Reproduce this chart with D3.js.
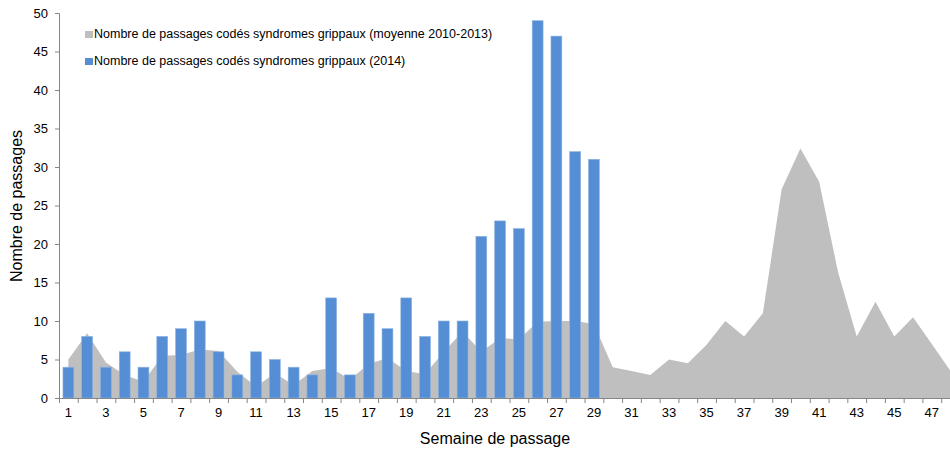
<!DOCTYPE html>
<html>
<head>
<meta charset="utf-8">
<script src="https://cdn.jsdelivr.net/npm/d3@7"></script>
<style>
  body { margin: 0; background: #fff; }
  svg { display: block; font-family: "Liberation Sans", Arial, sans-serif; }
</style>
</head>
<body>
<svg id="chart"></svg>
<script>
// semaines 1..48 (tick labels shown on odd weeks)
const weeks = [1,2,3,4,5,6,7,8,9,10,11,12,13,14,15,16,17,18,19,20,21,22,23,24,
  25,26,27,28,29,30,31,32,33,34,35,36,37,38,39,40,41,42,43,44,45,46,47,48]

// moyenne 2010-2013 (area)
const moyenne = [5.0,8.4,4.6,3.0,2.1,5.5,5.6,6.3,6.1,3.4,1.5,3.2,1.7,3.5,3.9,2.4,
  4.4,5.2,3.5,3.1,6.0,8.6,6.0,7.8,7.6,9.9,10.0,10.0,9.6,4.0,3.5,3.0,5.0,4.5,6.9,
  10.0,8.0,11.0,27.1,32.4,28.1,16.4,8.0,12.5,8.0,10.5,7.0,3.5]

// 2014 (bars, weeks 1..29)
const annee2014 = [4,8,4,6,4,8,9,10,6,3,6,5,4,3,13,3,11,9,13,8,10,10,21,23,22,49,47,32,31]

const yTicks = [0,5,10,15,20,25,30,35,40,45,50]

const legendLabels = [
  'Nombre de passages codés syndromes grippaux (moyenne 2010-2013)',
  'Nombre de passages codés syndromes grippaux (2014)'
]

const width = 950
const height = 450
const margin = { top: 13, bottom: 52, left: 59 }
const bandW = 18.77

const svg = d3.select('#chart')
  .attr('width', width)
  .attr('height', height)

const xScale = d3.scaleBand()
  .domain(weeks)
  .range([margin.left, margin.left + weeks.length * bandW])
  .padding(0)

const xLin = d3.scaleLinear()
  .domain([0, weeks.length])
  .range([margin.left, margin.left + weeks.length * bandW])

const yScale = d3.scaleLinear()
  .domain([0, 50])
  .range([height - margin.bottom, margin.top])

const cx = w => xScale(w) + xScale.bandwidth() / 2

// gray area
const area = d3.area()
  .x((d, i) => cx(weeks[i]))
  .y0(yScale(0))
  .y1(d => yScale(d))

svg.append('path')
  .datum(moyenne)
  .attr('fill', '#BFBFBF')
  .attr('d', area)

// blue bars
const barW = xScale.bandwidth() * 0.58
svg.append('g')
  .attr('fill', '#558ED5')
  .attr('stroke', '#8DB4E2')
  .attr('stroke-width', 0.6)
  .selectAll('rect')
  .data(annee2014)
  .join('rect')
  .attr('x', (d, i) => cx(weeks[i]) - barW / 2)
  .attr('y', d => yScale(d))
  .attr('width', barW)
  .attr('height', d => yScale(0) - yScale(d))

// y axis
function yAxis(g) {
  g.attr('transform', `translate(${margin.left}, 0)`)
    .call(d3.axisLeft(yScale).tickValues(yTicks).tickSize(4).tickPadding(7))
  g.selectAll('path, line').attr('stroke', '#868686')
  g.selectAll('text').attr('font-size', 13).attr('fill', '#000')
    .attr('font-family', '"Liberation Sans", Arial, sans-serif')
}

// x axis: tick marks on band edges, labels on odd weeks
function xTicks(g) {
  g.attr('transform', `translate(0, ${yScale(0)})`)
    .call(d3.axisBottom(xLin).ticks(weeks.length).tickValues(d3.range(0, weeks.length + 1))
      .tickSize(5).tickFormat(''))
  g.selectAll('path, line').attr('stroke', '#868686')
}

function xLabels(g) {
  g.attr('transform', `translate(0, ${yScale(0)})`)
    .call(d3.axisBottom(xScale).tickSize(0).tickPadding(10)
      .tickFormat(w => (w % 2 === 1 ? w : '')))
  g.select('.domain').remove()
  g.selectAll('text').attr('font-size', 13).attr('fill', '#000')
    .attr('font-family', '"Liberation Sans", Arial, sans-serif')
}

svg.append('g').call(xTicks)
svg.append('g').call(xLabels)
svg.append('g').call(yAxis)

// axis titles
svg.append('text')
  .attr('x', 495)
  .attr('y', 444)
  .attr('text-anchor', 'middle')
  .attr('font-size', 16)
  .text('Semaine de passage')

svg.append('text')
  .attr('transform', 'translate(22, 206) rotate(-90)')
  .attr('text-anchor', 'middle')
  .attr('font-size', 16)
  .text('Nombre de passages')

// legend
const legendColors = ['#BFBFBF', '#558ED5']
const legend = svg.append('g')
  .selectAll('g')
  .data(legendLabels)
  .join('g')
  .attr('transform', (d, i) => `translate(85, ${31 + i * 27})`)

legend.append('rect')
  .attr('width', 8)
  .attr('height', 7)
  .attr('fill', (d, i) => legendColors[i])

legend.append('text')
  .attr('x', 9)
  .attr('y', 7)
  .attr('font-size', 12.5)
  .attr('fill', '#000')
  .text(d => d)
</script>
</body>
</html>
